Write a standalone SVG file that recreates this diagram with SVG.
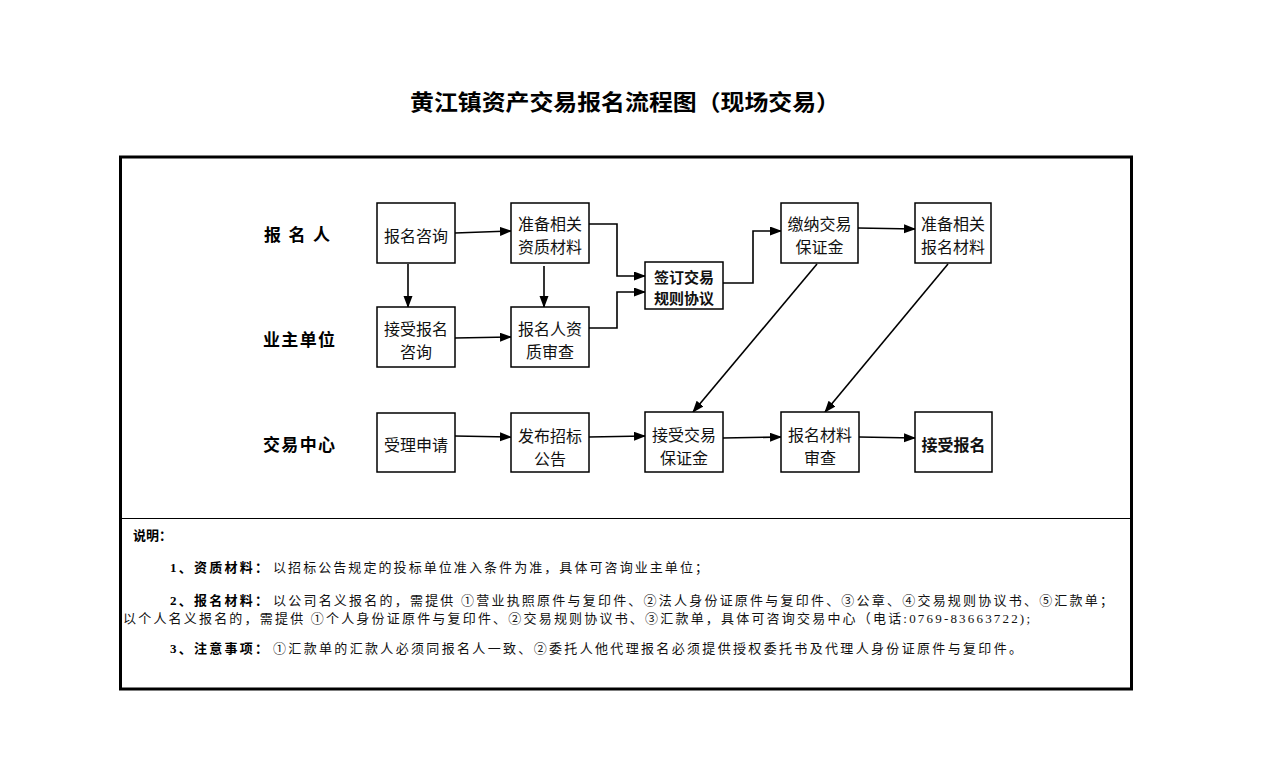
<svg xmlns="http://www.w3.org/2000/svg" width="1274" height="780" viewBox="0 0 1274 780">
<style>
.box{fill:#fff;stroke:#000;stroke-width:1.5}
.bt{font-family:"Noto Sans CJK SC","Liberation Sans",sans-serif;font-size:16px;fill:#111;text-anchor:middle}
.bb{font-weight:bold}
.sm{font-size:15px}
.lab{font-family:"Noto Sans CJK SC",serif;font-size:17px;font-weight:bold;fill:#000}
.note{font-family:"Liberation Serif","Noto Sans CJK SC",serif;font-size:13px;fill:#111}
.nb{font-weight:bold;fill:#000}
.con{fill:none;stroke:#000;stroke-width:1.6;marker-end:url(#ah)}
</style>
<defs>
<marker id="ah" markerUnits="userSpaceOnUse" markerWidth="12" markerHeight="10" refX="11" refY="4.5" orient="auto">
<path d="M0,0 L12,4.5 L0,9 z" fill="#000"/>
</marker>
</defs>
<rect width="1274" height="780" fill="#fff"/>
<text x="625" y="110" text-anchor="middle" font-family="'Noto Sans CJK SC',serif" font-size="22" font-weight="bold" textLength="430" lengthAdjust="spacingAndGlyphs">黄江镇资产交易报名流程图（现场交易）</text>
<rect x="120.5" y="157" width="1011" height="532" fill="none" stroke="#000" stroke-width="3"/>
<line x1="120" y1="518.5" x2="1131" y2="518.5" stroke="#000" stroke-width="1.2"/>

<g id="lanes">
<text class="lab" x="264" y="241" textLength="66">报 名 人</text>
<text class="lab" x="263" y="346" textLength="72">业主单位</text>
<text class="lab" x="263" y="451" textLength="72">交易中心</text>
</g>

<g id="connectors">
<path class="con" d="M455,233 L511,231"/>
<path class="con" d="M408,264 L408,307"/>
<path class="con" d="M544,266 L544,307"/>
<path class="con" d="M455,338 L511,337"/>
<path class="con" d="M589,224 H617 V276 H645"/>
<path class="con" d="M589,328 H617 V292 H645"/>
<path class="con" d="M723,283 H753 V231 H781"/>
<path class="con" d="M858,228 L915,229"/>
<path class="con" d="M817,264 L693,412"/>
<path class="con" d="M948,264 L825,412"/>
<path class="con" d="M455,436 L511,437"/>
<path class="con" d="M589,437 L645,436"/>
<path class="con" d="M723,438 L781,437"/>
<path class="con" d="M859,437 L915,438"/>
</g>

<g id="n1"><rect class="box" x="377" y="203" width="78" height="60"/><text class="bt" x="416" y="242">报名咨询</text></g>
<g id="n2"><rect class="box" x="511" y="203" width="78" height="60"/><text class="bt" x="550" y="230">准备相关</text><text class="bt" x="550" y="253">资质材料</text></g>
<g id="n3"><rect class="box" x="645" y="262" width="78" height="47"/><text class="bt bb sm" x="684" y="283">签订交易</text><text class="bt bb sm" x="684" y="304">规则协议</text></g>
<g id="n4"><rect class="box" x="781" y="203" width="77" height="60"/><text class="bt" x="819.5" y="230">缴纳交易</text><text class="bt" x="819.5" y="253">保证金</text></g>
<g id="n5"><rect class="box" x="915" y="203" width="76" height="60"/><text class="bt" x="953" y="230">准备相关</text><text class="bt" x="953" y="253">报名材料</text></g>
<g id="n6"><rect class="box" x="377" y="307" width="78" height="60"/><text class="bt" x="416" y="335">接受报名</text><text class="bt" x="416" y="358">咨询</text></g>
<g id="n7"><rect class="box" x="511" y="307" width="78" height="60"/><text class="bt" x="550" y="335">报名人资</text><text class="bt" x="550" y="358">质审查</text></g>
<g id="n8"><rect class="box" x="377" y="413" width="78" height="59"/><text class="bt" x="416" y="451">受理申请</text></g>
<g id="n9"><rect class="box" x="511" y="413" width="78" height="59"/><text class="bt" x="550" y="442">发布招标</text><text class="bt" x="550" y="465">公告</text></g>
<g id="n10"><rect class="box" x="645" y="412" width="78" height="60"/><text class="bt" x="684" y="441">接受交易</text><text class="bt" x="684" y="464">保证金</text></g>
<g id="n11"><rect class="box" x="781" y="412" width="78" height="60"/><text class="bt" x="820" y="441">报名材料</text><text class="bt" x="820" y="464">审查</text></g>
<g id="n12"><rect class="box" x="915" y="412" width="77" height="60"/><text class="bt bb" x="953.5" y="451">接受报名</text></g>

<g id="notes">
<text class="note nb" x="133" y="540">说明：</text>
<text class="note nb" x="170" y="572" textLength="98">1、资质材料：</text>
<text class="note" x="273" y="572" textLength="435" lengthAdjust="spacing">以招标公告规定的投标单位准入条件为准，具体可咨询业主单位；</text>
<text class="note nb" x="170" y="605" textLength="98">2、报名材料：</text>
<text class="note" x="273" y="605" textLength="840" lengthAdjust="spacing">以公司名义报名的，需提供 ①营业执照原件与复印件、②法人身份证原件与复印件、③公章、④交易规则协议书、⑤汇款单；</text>
<text class="note" x="123" y="623" textLength="907" lengthAdjust="spacing">以个人名义报名的，需提供 ①个人身份证原件与复印件、②交易规则协议书、③汇款单，具体可咨询交易中心（电话:0769-83663722);</text>
<text class="note nb" x="170" y="653" textLength="98">3、注意事项：</text>
<text class="note" x="273" y="653" textLength="749" lengthAdjust="spacing">①汇款单的汇款人必须同报名人一致、②委托人他代理报名必须提供授权委托书及代理人身份证原件与复印件。</text>
</g>
</svg>
